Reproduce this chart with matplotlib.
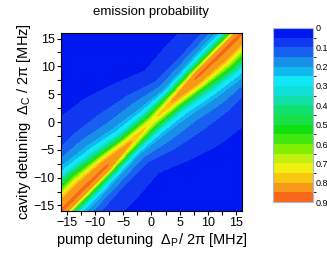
import numpy as np
import matplotlib
matplotlib.use("Agg")
import matplotlib.pyplot as plt
from matplotlib.colors import ListedColormap, BoundaryNorm

# stations along the diagonal s = (dp + dc) / 2  [MHz]
stations = [-16, -12, -8, -4, 0, 4, 8, 12, 16]
# ridge height on the diagonal (dp == dc) at each station
peak = [0.86, 0.86, 0.855, 0.81, 0.73, 0.81, 0.855, 0.86, 0.86]
levels_read = [0.8, 0.7, 0.5, 0.3, 0.2, 0.15, 0.1, 0.05]
# offset d = dc - dp (upper-left side) where each level is crossed, per station
# (nan: ridge does not reach that level). Lower-right side is the mirror image:
# value(s, -d) == value(-s, d)
upper_cross = [
    [1.9, 3.0, 4.5, 6.0, 8.0, 9.5, 11.5, 17.0],
    [1.9, 3.0, 4.5, 6.0, 8.0, 9.5, 11.5, 17.0],
    [1.4, 2.3, 3.3, 5.0, 7.0, 9.0, 11.5, 17.0],
    [0.2, 1.2, 2.2, 3.5, 5.5, 7.5, 10.5, 16.0],
    [np.nan, 0.4, 1.6, 2.8, 4.4, 6.5, 9.0, 13.5],
    [0.2, 0.9, 1.7, 2.6, 3.6, 4.8, 6.5, 10.3],
    [1.0, 1.4, 2.0, 3.0, 4.0, 5.2, 6.5, 11.0],
    [1.1, 1.6, 2.1, 3.2, 4.5, 5.5, 7.0, 11.0],
    [1.1, 1.6, 2.1, 3.2, 4.5, 5.5, 7.0, 11.0],
]
far_d = 40.0
far_val = 0.01

band_colors = ["#0018f0", "#1038f0", "#1860f0", "#1890e8", "#10b8f0", "#10e8f8",
               "#10e0d8", "#10e0a8", "#10e070", "#18e048", "#10e010", "#40e810",
               "#80f000", "#c0f010", "#f0f010", "#f8c810", "#f89818", "#f86818"]
cbar_ticks = [0, 0.1, 0.2, 0.3, 0.4, 0.5, 0.6, 0.7, 0.8, 0.9]
ticks = [-15, -10, -5, 0, 5, 10, 15]

plt.rcParams["font.family"] = ["Liberation Sans", "DejaVu Sans"]
plt.rcParams["mathtext.fontset"] = "custom"
plt.rcParams["mathtext.rm"] = "Liberation Sans"
plt.rcParams["mathtext.it"] = "Liberation Sans:italic"

# curvilinear grid: rows = stations, columns = far-lower .. peak .. far-upper
n = len(stations)
S, D, Z = [], [], []
for i in range(n):
    up = np.array(upper_cross[i], dtype=float)
    lo = np.array(upper_cross[n - 1 - i], dtype=float)
    pk = peak[i]
    lv = np.array(levels_read)
    up_z = np.where(np.isnan(up), pk, lv)
    lo_z = np.where(np.isnan(lo), pk, lv)
    up = np.nan_to_num(up, nan=0.0)
    lo = np.nan_to_num(lo, nan=0.0)
    d_row = np.concatenate([[-far_d], -lo[::-1], [0.0], up, [far_d]])
    z_row = np.concatenate([[far_val], lo_z[::-1], [pk], up_z, [far_val]])
    S.append(np.full_like(d_row, stations[i]))
    D.append(d_row)
    Z.append(z_row)
S, D, Z = np.array(S), np.array(D), np.array(Z)
X = S - D / 2
Y = S + D / 2

bounds = np.round(np.arange(0, 0.95, 0.05), 2)
cmap = ListedColormap(band_colors)
norm = BoundaryNorm(bounds, cmap.N)

fig = plt.figure(figsize=(3.27, 2.59), dpi=100)
ax = fig.add_axes([0.1865, 0.1853, 0.5535, 0.6873])
cf = ax.contourf(X, Y, Z, levels=bounds, cmap=cmap, norm=norm, extend="neither")
ax.set_xlim(-16, 16)
ax.set_ylim(-16, 16)
ax.set_xticks(ticks)
ax.set_yticks(ticks)
ax.set_xticks(np.arange(-15, 16, 2.5), minor=True)
ax.set_yticks(np.arange(-15, 16, 2.5), minor=True)
ax.tick_params(which="both", direction="out", length=3, width=0.8, labelsize=9,
               pad=1.5)
for sp in ax.spines.values():
    sp.set_linewidth(0.8)

ax.set_xlabel(r"pump detuning  $\Delta_{\mathrm{P}}$/ 2$\mathrm{\pi}$ [MHz]",
              fontsize=10.5, labelpad=1)
ax.set_ylabel(r"cavity detuning  $\Delta_{\mathrm{C}}$ / 2$\mathrm{\pi}$ [MHz]",
              fontsize=10.5, labelpad=0)
fig.text(0.462, 0.955, "emission probability", ha="center", va="center", fontsize=9.5)

cax = fig.add_axes([0.835, 0.22, 0.122, 0.672])
cb = fig.colorbar(cf, cax=cax, ticks=cbar_ticks)
cax.invert_yaxis()
cb.set_ticklabels([f"{t:g}" for t in cbar_ticks])
cax.tick_params(length=0, labelsize=6.5, pad=2)
cb.outline.set_edgecolor("#a8b8e0")
cb.outline.set_linewidth(0.8)

fig.savefig("out.png", dpi=100)
